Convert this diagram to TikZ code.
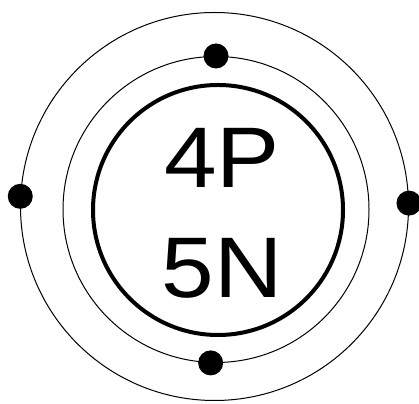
\documentclass[tikz,border=0pt]{standalone}
\usepackage{fontspec}
\setmainfont{Liberation Sans}
\newfontfamily\atfont[FakeStretch=1.1]{Liberation Sans}
\usepackage{tikz}
\usetikzlibrary{positioning}
\tikzset{
  at_core/.style={
    draw, circle, line width=4pt, minimum size=250pt, inner sep=0pt
  },
  at_text/.style={
    inner sep=0pt, anchor=base,
    font=\atfont\fontsize{86}{110}\selectfont
  },
  at_shell/.style={
    draw, circle, line width=1pt, inner sep=0pt
  },
  at_elec/.style={
    circle, fill=black, minimum size=25pt, inner sep=0pt
  },
}
\begin{document}
\begin{tikzpicture}[x=1pt, y=1pt]
\useasboundingbox (0,0) rectangle (419,403);

% Shells
\node[at_shell, minimum size=388pt] (outer) at (214.5,196.5) {};
\node[at_shell, minimum size=306pt] (inner) at (216,193.5) {};

% Nucleus
\node[at_core] (core) at (218,193) {};
\node[at_text] (protons)  at ([xshift=4pt, yshift=22pt]core.center)  {4P};
\node[at_text] (neutrons) at ([xshift=4pt, yshift=-88pt]core.center) {5N};

% Electrons
\node[at_elec] (e1) at (inner.90)    {};
\node[at_elec] (e2) at (inner.268.6) {};
\node[at_elec] (e3) at (outer.177.5) {};
\node[at_elec] (e4) at (outer.1)     {};

\end{tikzpicture}
\end{document}
